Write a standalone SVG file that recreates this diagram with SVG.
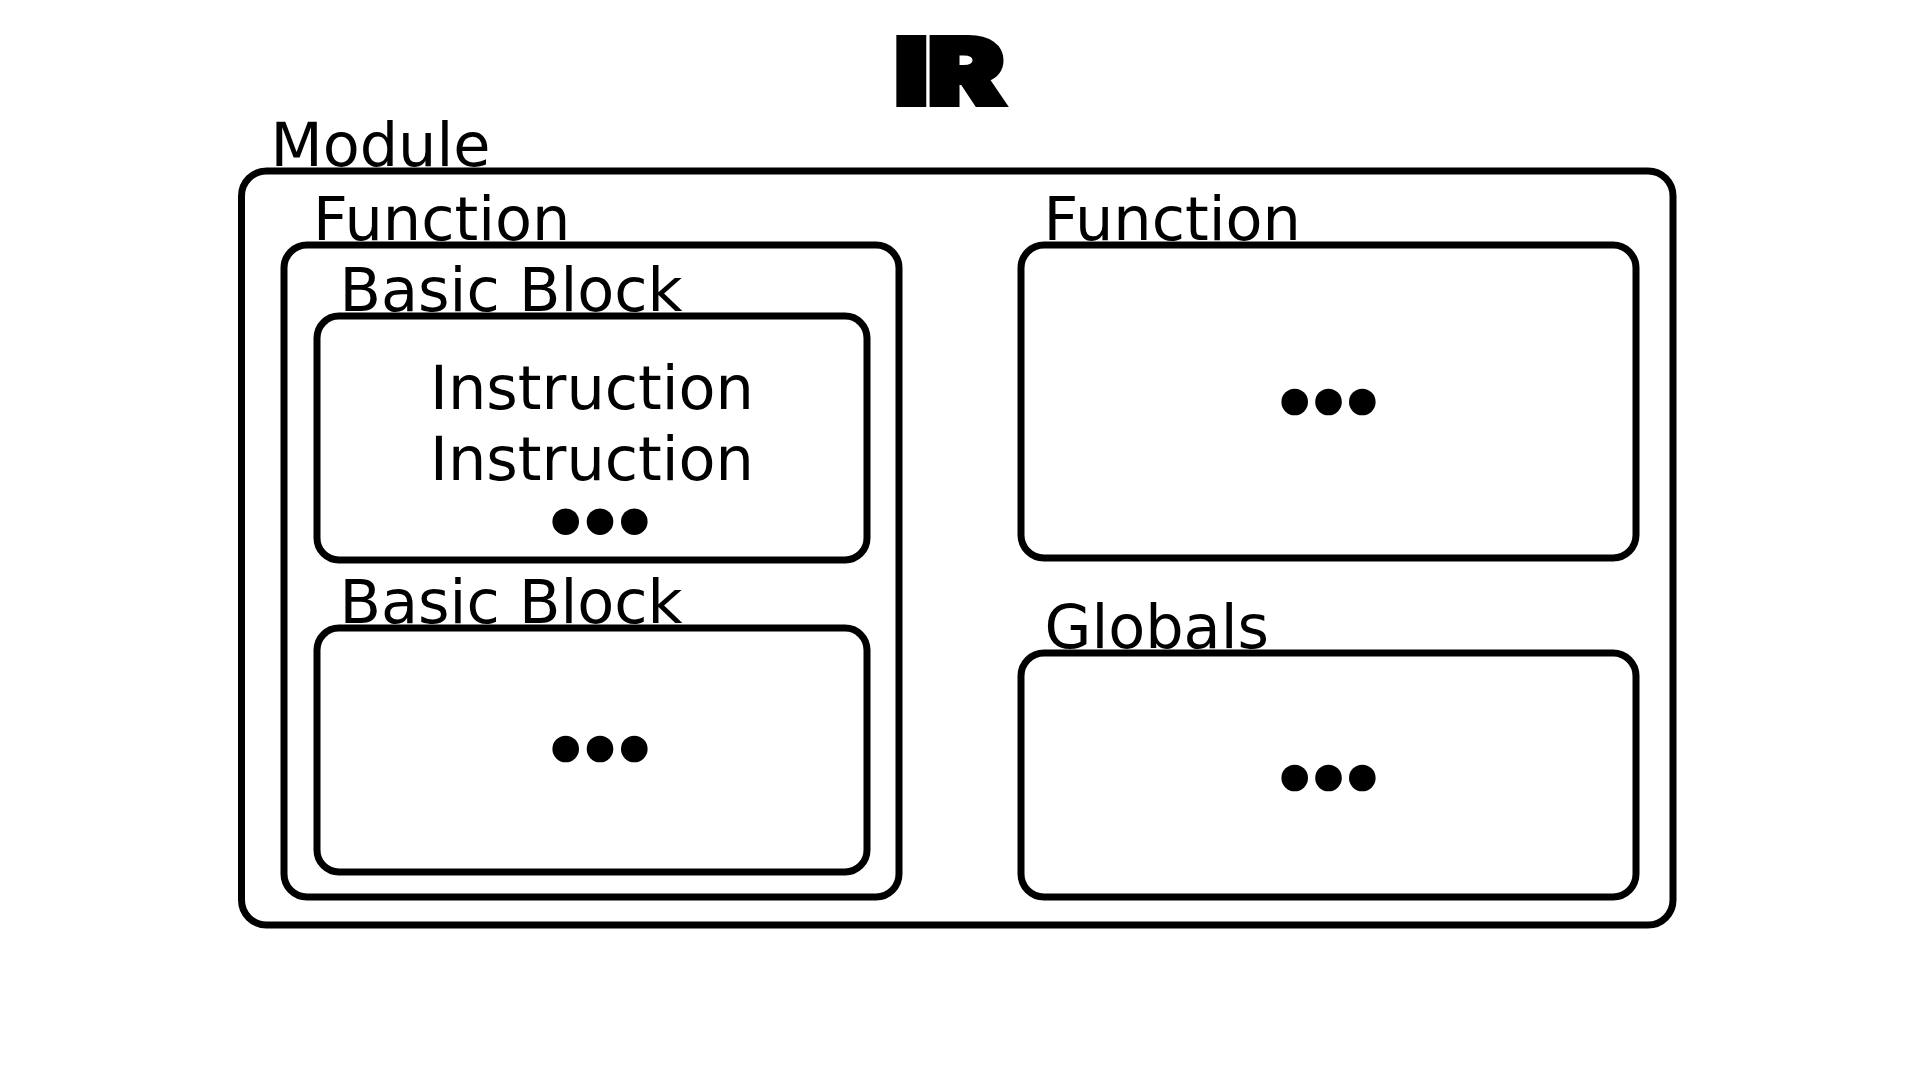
<svg xmlns="http://www.w3.org/2000/svg" width="1920" height="1080" viewBox="0 0 1920 1080">
<style>
.box{fill:none;stroke:#000;stroke-width:7}
.lbl{font-family:"DejaVu Sans","Liberation Sans",sans-serif;font-size:60.5px;fill:#000}
.ctr{text-anchor:middle}
.dot{fill:#000}
.title{font-family:Inter,"DejaVu Sans",sans-serif;font-weight:900;font-size:91px;fill:#000;stroke:#000;stroke-width:6;stroke-linejoin:miter;text-anchor:middle}
</style>
<rect width="1920" height="1080" fill="#fff"/>
<text class="title" transform="translate(952.5 0) scale(1.25 1)" x="-2.5" y="104.5">IR</text>
<g id="module">
<rect class="box" x="241.5" y="171" width="1431.5" height="754" rx="25"/>
<text class="lbl" x="270.5" y="166">Module</text>
</g>
<g id="function1">
<rect class="box" x="284" y="245" width="615" height="652" rx="23"/>
<text class="lbl" x="313" y="239.5">Function</text>
</g>
<g id="basicblock1">
<rect class="box" x="317" y="316" width="550" height="244" rx="22"/>
<text class="lbl" x="339.5" y="310.5">Basic Block</text>
<text class="lbl ctr" x="592" y="409">Instruction</text>
<text class="lbl ctr" x="592" y="480">Instruction</text>
<circle class="dot" cx="565.7" cy="521.7" r="13.3"/>
<circle class="dot" cx="600" cy="521.7" r="13.3"/>
<circle class="dot" cx="634.3" cy="521.7" r="13.3"/>
</g>
<g id="basicblock2">
<rect class="box" x="317" y="628" width="550" height="244" rx="22"/>
<text class="lbl" x="339.5" y="622.5">Basic Block</text>
<circle class="dot" cx="565.7" cy="749" r="13.3"/>
<circle class="dot" cx="600" cy="749" r="13.3"/>
<circle class="dot" cx="634.3" cy="749" r="13.3"/>
</g>
<g id="function2">
<rect class="box" x="1021" y="245" width="615" height="313" rx="23"/>
<text class="lbl" x="1043.5" y="240">Function</text>
<circle class="dot" cx="1294.7" cy="402" r="13.3"/>
<circle class="dot" cx="1328.5" cy="402" r="13.3"/>
<circle class="dot" cx="1362.3" cy="402" r="13.3"/>
</g>
<g id="globals">
<rect class="box" x="1021" y="653" width="615" height="244" rx="23"/>
<text class="lbl" x="1044.5" y="647.5">Globals</text>
<circle class="dot" cx="1294.7" cy="778" r="13.3"/>
<circle class="dot" cx="1328.5" cy="778" r="13.3"/>
<circle class="dot" cx="1362.3" cy="778" r="13.3"/>
</g>
<g id="connectors"></g>
</svg>
